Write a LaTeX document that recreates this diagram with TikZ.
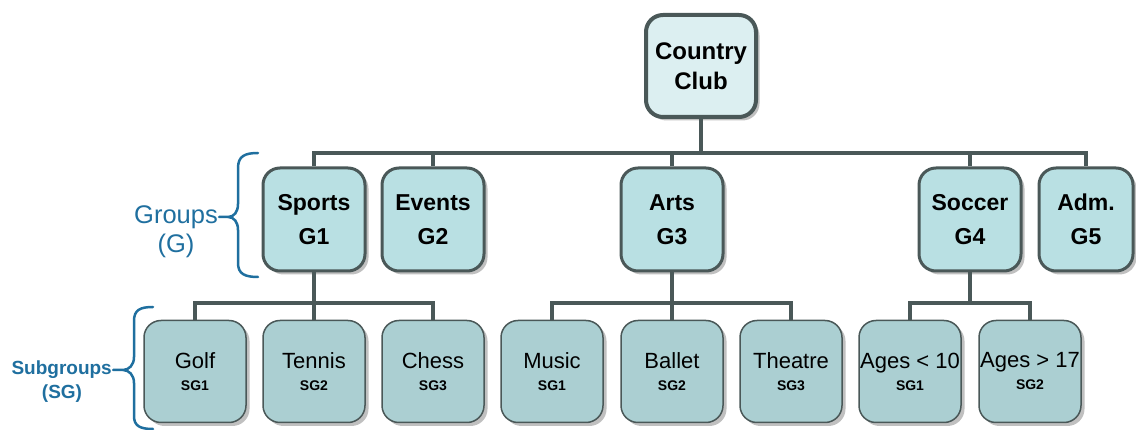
\documentclass[tikz,border=0pt]{standalone}
\usepackage{fontspec}
\setmainfont{Liberation Sans}
\usetikzlibrary{shadows}
\definecolor{bord}{HTML}{4A5858}
\definecolor{rootfill}{HTML}{DCEFF1}
\definecolor{grpfill}{HTML}{B9E0E3}
\definecolor{subfill}{HTML}{ABCFD2}
\definecolor{bracecol}{HTML}{1F6F9F}
\begin{document}
\begin{tikzpicture}[x=1pt,y=-1pt,
  boxbase/.style={draw=bord, rounded corners=17pt, align=center, inner sep=0pt,
    drop shadow={shadow xshift=3.5pt, shadow yshift=-3.5pt, fill=black!45, opacity=0.55}},
  rootbox/.style={boxbase, fill=rootfill, line width=4pt, minimum width=110pt, minimum height=102pt,
    font=\fontsize{24}{30}\selectfont\bfseries},
  grpbox/.style={boxbase, fill=grpfill, line width=3pt, minimum width=102pt, minimum height=103pt,
    font=\fontsize{23}{34}\selectfont\bfseries},
  subbox/.style={boxbase, fill=subfill, line width=1.5pt, minimum width=102pt, minimum height=102pt,
    font=\fontsize{22}{24}\selectfont},
  conn/.style={draw=bord, line width=4pt, line join=miter},
  bracepath/.style={draw=bracecol, line width=2.5pt, line cap=round},
  lbl/.style={text=bracecol, align=center, inner sep=0pt}
]
\useasboundingbox (0,0) rectangle (1136,430);
\newcommand{\sgc}[1]{\\[-2pt]{\fontsize{14}{16}\selectfont\bfseries #1}}

% root
\node[rootbox] (cc) at (701,66) {Country\\Club};

% groups
\node[grpbox] (sports) at (314,219.5) {Sports\\G1};
\node[grpbox] (events) at (433,219.5) {Events\\G2};
\node[grpbox] (arts)   at (672,219.5) {Arts\\G3};
\node[grpbox] (soccer) at (970,219.5) {Soccer\\G4};
\node[grpbox, minimum width=94pt] (adm) at (1086,219.5) {Adm.\\G5};

% subgroups
\node[subbox] (golf)    at (195,371.5) {Golf\sgc{SG1}};
\node[subbox] (tennis)  at (314,371.5) {Tennis\sgc{SG2}};
\node[subbox] (chess)   at (433,371.5) {Chess\sgc{SG3}};
\node[subbox] (music)   at (552,371.5) {Music\sgc{SG1}};
\node[subbox] (ballet)  at (672,371.5) {Ballet\sgc{SG2}};
\node[subbox] (theatre) at (791,371.5) {Theatre\sgc{SG3}};
\node[subbox] (young)   at (910,371.5) {Ages < 10\sgc{SG1}};
\node[subbox] (old)     at (1030,371.5) {Ages > 17\sgc{SG2}};

% connectors
\coordinate (busG) at (701,153);
\coordinate (busS) at (0,303);
\draw[conn] (cc.south) -- (busG);
\draw[conn] (sports.north) -- (sports.north |- busG) -- (adm.north |- busG) -- (adm.north);
\foreach \n in {events,arts,soccer} \draw[conn] (\n.north) -- (\n.north |- busG);

\draw[conn] (sports.south) -- (sports.south |- busS);
\draw[conn] (golf.north) -- (golf.north |- busS) -- (chess.north |- busS) -- (chess.north);
\draw[conn] (tennis.north) -- (tennis.north |- busS);

\draw[conn] (arts.south) -- (arts.south |- busS);
\draw[conn] (music.north) -- (music.north |- busS) -- (theatre.north |- busS) -- (theatre.north);
\draw[conn] (ballet.north) -- (ballet.north |- busS);

\draw[conn] (soccer.south) -- (soccer.south |- busS);
\draw[conn] (young.north) -- (young.north |- busS) -- (old.north |- busS) -- (old.north);

% braces
\coordinate (gtip) at (219,217);
\draw[bracepath] (258,153) .. controls (245,153) and (238,156) .. (238,168)
  -- (238,204) .. controls (238,212) and (234,217) .. (228,217) -- (gtip)
  (228,217) .. controls (234,217) and (238,222) .. (238,230)
  -- (238,263) .. controls (238,274) and (245,277) .. (258,277);
\coordinate (stip) at (113,370);
\draw[bracepath] (153,307) .. controls (140,307) and (134,310) .. (134,321)
  -- (134,357) .. controls (134,365) and (129,370) .. (123,370) -- (stip)
  (123,370) .. controls (129,370) and (134,375) .. (134,383)
  -- (134,416) .. controls (134,426) and (140,429) .. (153,429);

\node[lbl, anchor=east, font=\fontsize{25.5}{30}\selectfont] (glbl) at ([xshift=-1pt]gtip) {Groups};
\node[lbl, font=\fontsize{25.5}{30}\selectfont] (gsub) at (176,246) {(G)};
\node[lbl, anchor=east, font=\fontsize{19}{22}\selectfont\bfseries] (slbl) at ([xshift=-1pt]stip) {Subgroups};
\node[lbl, font=\fontsize{19}{22}\selectfont\bfseries] (ssub) at (62,394) {(SG)};
\end{tikzpicture}
\end{document}
